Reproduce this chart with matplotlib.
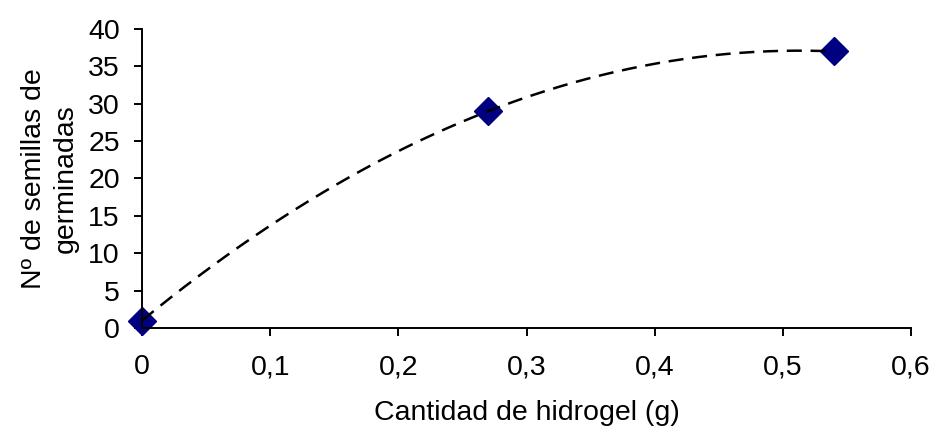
import numpy as np
import matplotlib.pyplot as plt

plt.rcParams['font.family'] = ['Liberation Sans', 'DejaVu Sans']

hidrogel = [0, 0.27, 0.54]
germinadas = [1, 29, 37]

# polynomial trendline (order 2), as in the spreadsheet chart
coef = np.polyfit(hidrogel, germinadas, 2)
xs = np.linspace(min(hidrogel), max(hidrogel), 200)
ys = np.polyval(coef, xs)

fig = plt.figure(figsize=(9.37, 4.3), dpi=100)
ax = fig.add_axes([0.1516, 0.2372, 0.8207, 0.6954])

ax.plot(hidrogel, germinadas, linestyle='none', marker='D', markersize=14,
        color='#000080', zorder=2)
ax.plot(xs, ys, color='black', linestyle=(0, (6, 3.5)), linewidth=1.8, zorder=3)

ax.set_xlim(0, 0.6)
ax.set_ylim(0, 40)
ax.set_xticks(np.arange(0, 0.61, 0.1))
ax.set_xticklabels(['0', '0,1', '0,2', '0,3', '0,4', '0,5', '0,6'])
ax.set_yticks(range(0, 41, 5))

for side in ['top', 'right']:
    ax.spines[side].set_visible(False)
for side in ['left', 'bottom']:
    ax.spines[side].set_linewidth(1.4)

fs = 20.5
ax.tick_params(axis='both', direction='out', length=6, width=1.4, labelsize=fs)
ax.tick_params(axis='x', pad=13)
ax.tick_params(axis='y', pad=10)

ax.set_xlabel('Cantidad de hidrogel (g)', fontsize=fs, labelpad=14)
ax.set_ylabel('Nº de semillas de\ngerminadas', fontsize=fs, labelpad=7,
              linespacing=1.25)

for m in ax.lines:
    m.set_clip_on(False)

fig.savefig('out.png', dpi=100)
